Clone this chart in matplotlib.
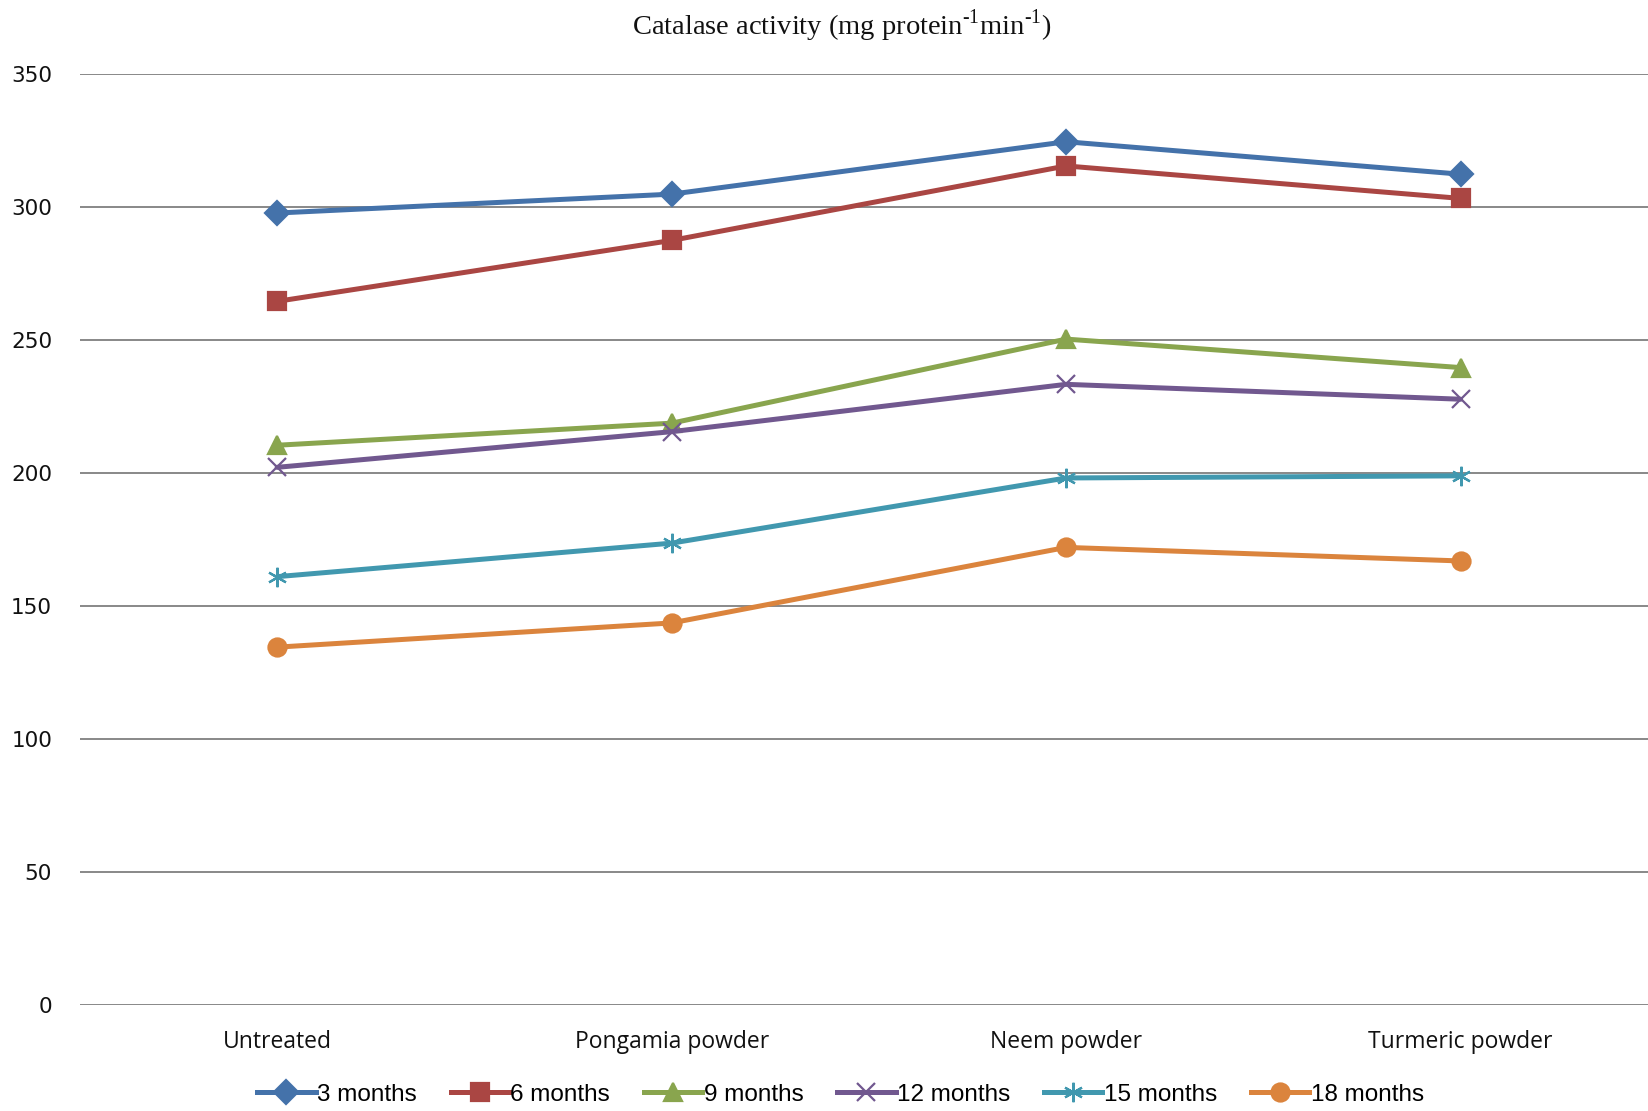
import matplotlib
matplotlib.use("Agg")
import matplotlib.pyplot as plt
from matplotlib.lines import Line2D

categories = ["Untreated", "Pongamia powder", "Neem powder", "Turmeric powder"]
series_names = ["3 months", "6 months", "9 months", "12 months", "15 months", "18 months"]
m3 = [297.9, 305.0, 324.7, 312.5]
m6 = [264.7, 287.6, 315.6, 303.4]
m9 = [210.6, 218.9, 250.5, 239.8]
m12 = [202.3, 215.7, 233.5, 227.9]
m15 = [161.2, 173.8, 198.3, 199.1]
m18 = [134.7, 143.8, 172.2, 167.1]
y_ticks = [0, 50, 100, 150, 200, 250, 300, 350]

values = [m3, m6, m9, m12, m15, m18]
colors = ["#4472AA", "#AA4643", "#89A54E", "#71588F", "#4198AF", "#DB843D"]
markers = ["D", "s", "^", "x", (6, 2, 0), "o"]
msizes = [12, 13, 13, 13, 14, 13]

fig = plt.figure(figsize=(16.48, 11.11), dpi=100)
ax = fig.add_axes([0.0485, 0.095, 0.9515, 0.838])

x = list(range(len(categories)))
for vals, c, mk, ms in zip(values, colors, markers, msizes):
    ax.plot(x, vals, color=c, lw=3.6, marker=mk, markersize=ms,
            markerfacecolor=c, markeredgecolor=c, markeredgewidth=1.6,
            solid_capstyle="round", zorder=3)

ax.set_ylim(0, 350)
ax.set_xlim(-0.5, 3.475)
ax.set_yticks(y_ticks)
ax.set_xticks(x)
ax.set_xticklabels(categories, fontsize=16.5, family=["Open Sans", "DejaVu Sans"])
for lbl in ax.get_yticklabels():
    lbl.set_fontsize(15.5)
    lbl.set_family("DejaVu Sans")
ax.tick_params(axis="both", length=0, colors="#111111")
ax.tick_params(axis="y", pad=20)
ax.tick_params(axis="x", pad=18)
ax.grid(axis="y", color="#888888", lw=1.4, zorder=0)
for s in ax.spines.values():
    s.set_visible(False)

fig.text(0.511, 0.977, "Catalase activity (mg protein$^{\\mathregular{\u20101}}$min$^{\\mathregular{\u20101}}$)",
         ha="center", va="center", fontsize=20.5, family="Liberation Serif", color="#111111")

handles = [Line2D([0], [0], color=c, lw=3.6, marker=mk, markersize=ms,
                  markerfacecolor=c, markeredgecolor=c, markeredgewidth=1.6)
           for c, mk, ms in zip(colors, markers, msizes)]
fig.legend(handles, series_names, loc="center", bbox_to_anchor=(0.51, 0.0145),
           ncol=6, frameon=False, handlelength=2.4, handletextpad=0.05,
           columnspacing=1.4, prop={"family": ["Liberation Sans", "DejaVu Sans"], "size": 17.5})

fig.savefig("out.png", dpi=100, facecolor="white")
